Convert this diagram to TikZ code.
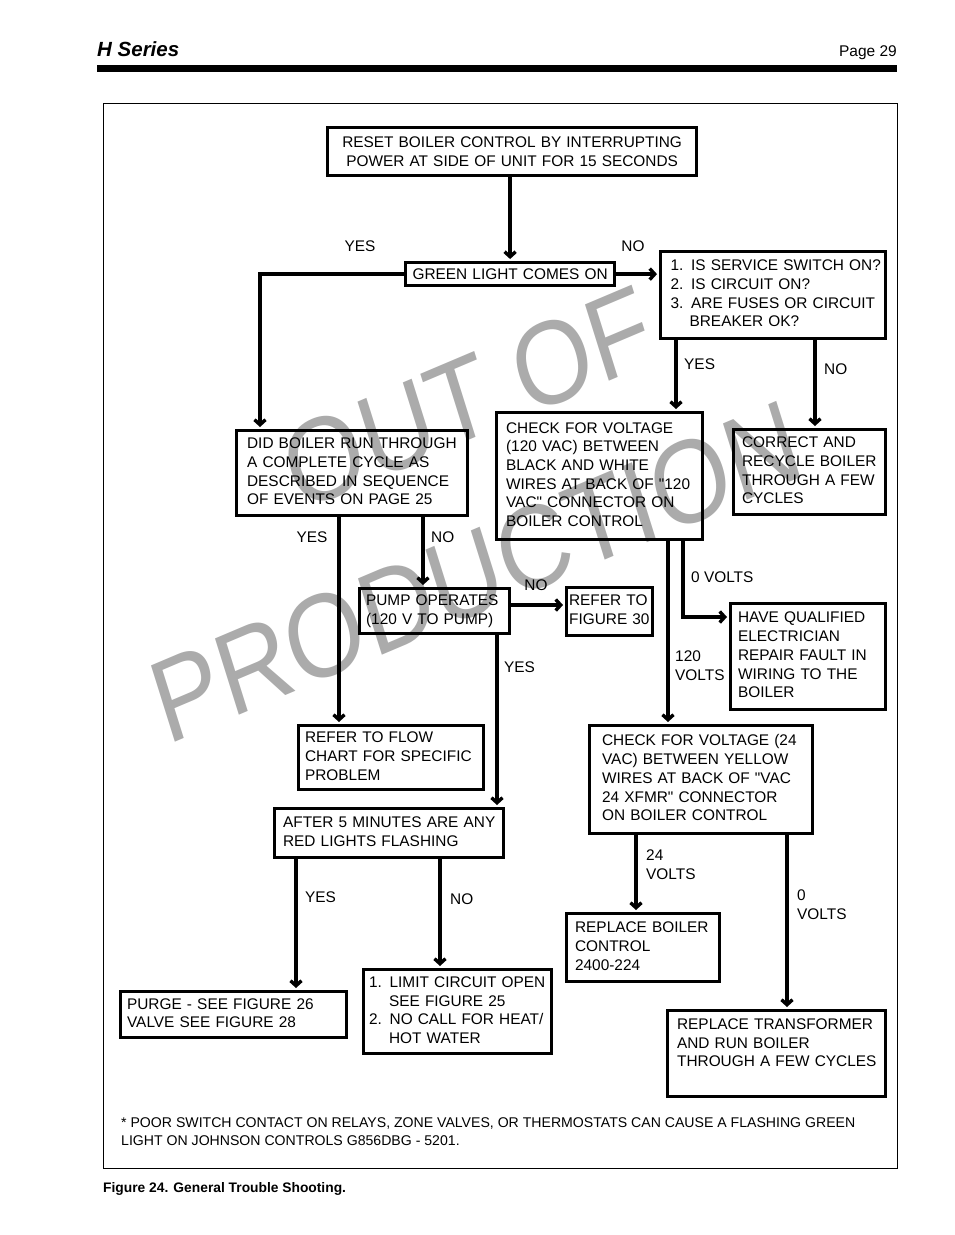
\documentclass[tikz,border=0pt]{standalone}
\usepackage{fontspec}
\setmainfont{Liberation Sans}[Ligatures=TeXOff]
\usetikzlibrary{arrows.meta}
\newcommand\bodyfont{\fontsize{15.4}{18.7}\selectfont}
\newcommand\Lines[1]{\noindent\begin{tabular}{@{}l@{}}#1\end{tabular}}
\newcommand\FBx[7]{%
  \pgfmathsetmacro\fbtw{#4-3-2*#6}%
  \pgfmathsetmacro\fbw{#4-3}%
  \pgfmathsetmacro\fbh{#5-3}%
  \node[box, anchor=north west, minimum width=\fbw pt, minimum height=\fbh pt,
        inner xsep=#6pt, text width=\fbtw pt, align=left] (#1) at (#2,-#3) {\Lines{#7}};}
\tikzset{
  box/.style={draw, line width=3.2pt, inner ysep=0pt, font=\bodyfont},
  cbox/.style={box, align=center},
  arr/.style={line width=3.4pt, -{Straight Barb[length=5pt,width=11pt]}, shorten >=2pt},
  lbl/.style={font=\bodyfont, inner sep=0pt},
  wm/.style={text=black!33, font=\fontsize{118}{120}\selectfont, xscale=0.86, rotate=20, inner sep=0pt}
}
\begin{document}
\begin{tikzpicture}[x=1pt,y=1pt]
\useasboundingbox (0,0) rectangle (954,-1235);
% watermark
\node[wm] (wm1) at (468,-398) {OUT OF};
\node[wm] (wm2) at (476,-572) {PRODUCTION};
% header
\node[anchor=base west, inner sep=0pt, font=\fontsize{20.5}{22}\selectfont\bfseries\itshape] (hser) at (97,-56) {H Series};
\node[anchor=base east, inner sep=0pt, font=\fontsize{15.5}{18}\selectfont] (page) at (897,-56) {Page 29};
\fill (97,-65) rectangle (897,-71.5);
\draw[line width=1pt] (103,-103) rectangle (897,-1168);
% boxes
\node[cbox, anchor=north west, minimum width=369pt, minimum height=48pt, text width=349pt] (reset) at (326,-126)
  {RESET BOILER CONTROL BY INTERRUPTING\\POWER AT SIDE OF UNIT FOR 15 SECONDS};
\node[cbox, anchor=north west, minimum width=209pt, minimum height=23pt, text width=200pt] (green) at (404,-261)
  {GREEN LIGHT COMES ON};
\FBx{service}{659}{250}{228}{90}{10}{1. IS SERVICE SWITCH ON?\\2. IS CIRCUIT ON?\\3. ARE FUSES OR CIRCUIT\\\hspace*{19pt}BREAKER OK?}
\FBx{didboiler}{235}{429}{234}{88}{10.5}{DID BOILER RUN THROUGH\\A COMPLETE CYCLE AS\\DESCRIBED IN SEQUENCE\\OF EVENTS ON PAGE 25}
\FBx{check120}{495}{411}{209}{130}{9.5}{CHECK FOR VOLTAGE\\(120 VAC) BETWEEN\\BLACK AND WHITE\\WIRES AT BACK OF "120\\VAC" CONNECTOR ON\\BOILER CONTROL}
\FBx{correct}{732}{428}{155}{88}{8.5}{CORRECT AND\\RECYCLE BOILER\\THROUGH A FEW\\CYCLES}
\FBx{pump}{358}{587}{153}{48}{6.5}{PUMP OPERATES\\(120 V TO PUMP)}
\FBx{refer30}{565}{586}{89}{51}{2.5}{REFER TO\\FIGURE 30}
\FBx{haveq}{729}{602}{158}{109}{7.5}{HAVE QUALIFIED\\ELECTRICIAN\\REPAIR FAULT IN\\WIRING TO THE\\BOILER}
\FBx{referflow}{297}{724}{188}{67}{6.5}{REFER TO FLOW\\CHART FOR SPECIFIC\\PROBLEM}
\FBx{after5}{273}{807}{232}{52}{8.5}{AFTER 5 MINUTES ARE ANY\\RED LIGHTS FLASHING}
\FBx{check24}{588}{724}{226}{111}{12.5}{CHECK FOR VOLTAGE (24\\VAC) BETWEEN YELLOW\\WIRES AT BACK OF "VAC\\24 XFMR" CONNECTOR\\ON BOILER CONTROL}
\FBx{replctrl}{565}{912}{156}{71}{8.5}{REPLACE BOILER\\CONTROL\\2400-224}
\FBx{purge}{119}{990}{229}{49}{6.5}{PURGE - SEE FIGURE 26\\VALVE SEE FIGURE 28}
\FBx{limit}{362}{968}{191}{87}{5.5}{1. LIMIT CIRCUIT OPEN\\\hspace*{20pt}SEE FIGURE 25\\2. NO CALL FOR HEAT/\\\hspace*{20pt}HOT WATER}
\FBx{replxfmr}{666}{1009}{221}{89}{9.5}{REPLACE TRANSFORMER\\AND RUN BOILER\\THROUGH A FEW CYCLES\\~}
% connectors
\draw[arr] (reset.south -| green.north) -- (green.north);
\draw[arr] (green.west) -| ([xshift=25pt]didboiler.north west);
\draw[arr] (green.east) -- (green.east -| service.west);
\draw[arr] ([xshift=17pt]service.south west) coordinate (s1) -- (s1 |- check120.north);
\draw[arr] ([xshift=156pt]service.south west) coordinate (s2) -- (s2 |- correct.north);
\draw[arr] ([xshift=104pt]didboiler.south west) coordinate (d1) -- (d1 |- referflow.north);
\draw[arr] ([xshift=188pt]didboiler.south west) coordinate (d2) -- (d2 |- pump.north);
\draw[arr] ([yshift=-18pt]pump.north east) coordinate (p1) -- (p1 -| refer30.west);
\draw[arr] ([xshift=139pt]pump.south west) coordinate (p2) -- (p2 |- after5.north);
\draw[arr] ([xshift=188pt]check120.south west) |- ([yshift=-15pt]haveq.north west);
\draw[arr] ([xshift=173pt]check120.south west) coordinate (c1) -- (c1 |- check24.north);
\draw[arr] ([xshift=48pt]check24.south west) coordinate (k1) -- (k1 |- replctrl.north);
\draw[arr] ([xshift=199pt]check24.south west) coordinate (k2) -- (k2 |- replxfmr.north);
\draw[arr] ([xshift=23pt]after5.south west) coordinate (a1) -- (a1 |- purge.north);
\draw[arr] ([xshift=167pt]after5.south west) coordinate (a2) -- (a2 |- limit.north);
% labels
\node[lbl] (l1) at (360,-246) {YES};
\node[lbl] (l2) at (633,-246) {NO};
\node[lbl, anchor=west] (l3) at (684,-364) {YES};
\node[lbl, anchor=west] (l4) at (824,-369) {NO};
\node[lbl] (l5) at (312,-537) {YES};
\node[lbl, anchor=west] (l6) at (431,-537) {NO};
\node[lbl] (l7) at (536,-585) {NO};
\node[lbl, anchor=west] (l8) at (504,-667) {YES};
\node[lbl, anchor=west] (l9) at (691,-577) {0 VOLTS};
\node[lbl, anchor=west] (l10) at (675,-667) {\Lines{120\\VOLTS}};
\node[lbl, anchor=west] (l11) at (646,-866) {\Lines{24\\VOLTS}};
\node[lbl, anchor=west] (l12) at (797,-906) {\Lines{0\\VOLTS}};
\node[lbl, anchor=west] (l13) at (305,-897) {YES};
\node[lbl, anchor=west] (l14) at (450,-899) {NO};
% footnote and caption
\node[anchor=base west, inner sep=0pt, font=\fontsize{14.1}{18}\selectfont] (foot1) at (121,-1127)
  {* POOR SWITCH CONTACT ON RELAYS, ZONE VALVES, OR THERMOSTATS CAN CAUSE A FLASHING GREEN};
\node[anchor=base west, inner sep=0pt, font=\fontsize{14.1}{18}\selectfont] (foot2) at (121,-1145)
  {LIGHT ON JOHNSON CONTROLS G856DBG - 5201.};
\node[anchor=base west, inner sep=0pt, font=\fontsize{13.8}{16}\selectfont\bfseries] (cap) at (103,-1192)
  {Figure 24. General Trouble Shooting.};
\end{tikzpicture}
\end{document}
